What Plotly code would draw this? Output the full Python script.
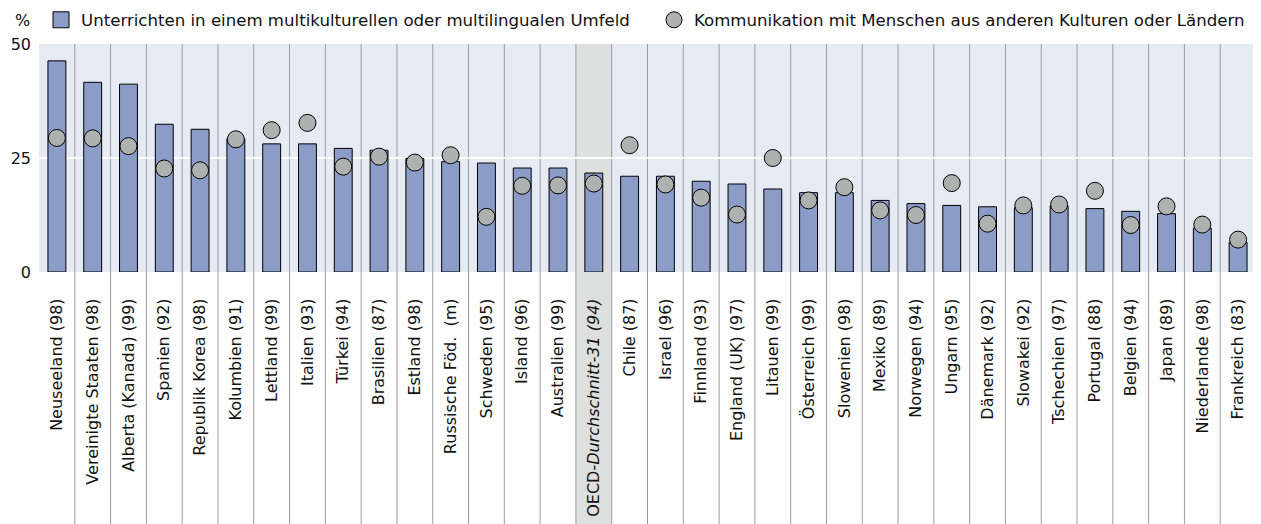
import plotly.graph_objects as go

categories = [
    "Neuseeland (98)", "Vereinigte Staaten (98)", "Alberta (Kanada) (99)", "Spanien (92)",
    "Republik Korea (98)", "Kolumbien (91)", "Lettland (99)", "Italien (93)", "Türkei (94)",
    "Brasilien (87)", "Estland (98)", "Russische Föd.  (m)", "Schweden (95)", "Island (96)",
    "Australien (99)", "OECD-<i>Durchschnitt-31 (94)</i>", "Chile (87)", "Israel (96)",
    "Finnland (93)", "England (UK) (97)", "Litauen (99)", "Österreich (99)", "Slowenien (98)",
    "Mexiko (89)", "Norwegen (94)", "Ungarn (95)", "Dänemark (92)", "Slowakei (92)",
    "Tschechien (97)", "Portugal (88)", "Belgien (94)", "Japan (89)", "Niederlande (98)",
    "Frankreich (83)",
]
unterrichten = [
    46.3, 41.6, 41.2, 32.4, 31.3, 29.2, 28.1, 28.1, 27.1, 26.7, 24.9, 24.2, 23.9, 22.8,
    22.8, 21.7, 21.0, 21.0, 19.9, 19.3, 18.2, 17.4, 17.4, 15.7, 15.0, 14.6, 14.3, 14.1,
    14.5, 13.9, 13.3, 12.8, 9.6, 6.5,
]
kommunikation = [
    29.4, 29.3, 27.6, 22.7, 22.3, 29.1, 31.1, 32.7, 23.1, 25.3, 24.0, 25.6, 12.1, 18.9,
    19.0, 19.4, 27.8, 19.2, 16.3, 12.6, 25.0, 15.7, 18.6, 13.5, 12.5, 19.5, 10.6, 14.6,
    14.8, 17.8, 10.3, 14.4, 10.4, 7.1,
]
series_names = [
    "Unterrichten in einem multikulturellen oder multilingualen Umfeld",
    "Kommunikation mit Menschen aus anderen Kulturen oder Ländern",
]
oecd_label = categories[15]
y_ticks = [0, 25, 50]

BAR_COLOR = "#8b9cc8"
DOT_COLOR = "#aeb1b0"
FONT = "DejaVu Sans"

W, H = 1253, 516  # page body has an 8px margin
idx = list(range(len(categories)))

fig = go.Figure()
# legend entries
fig.add_trace(go.Scatter(x=[None], y=[None], mode="markers", name=series_names[0],
                         legend="legend",
                         marker=dict(symbol="square", size=16, color=BAR_COLOR,
                                     line=dict(color="#000", width=1))))
fig.add_trace(go.Scatter(x=[None], y=[None], mode="markers", name=series_names[1],
                         legend="legend2",
                         marker=dict(symbol="circle", size=16, color=DOT_COLOR,
                                     line=dict(color="#000", width=1))))
fig.add_trace(go.Bar(x=idx, y=unterrichten, width=0.5, showlegend=False,
                     marker=dict(color=BAR_COLOR, line=dict(color="#000", width=1))))
fig.add_trace(go.Scatter(x=idx, y=kommunikation, mode="markers", showlegend=False,
                         marker=dict(symbol="circle", size=17, color=DOT_COLOR,
                                     line=dict(color="#000", width=1))))

shapes = []
oi = categories.index(oecd_label)
shapes.append(dict(type="rect", xref="x", yref="paper", x0=oi - 0.5, x1=oi + 0.5,
                   y0=-1.2, y1=1, fillcolor="#dedfdf", line=dict(width=0), layer="below"))
for i in range(1, len(categories)):
    shapes.append(dict(type="line", xref="x", yref="paper", x0=i - 0.5, x1=i - 0.5,
                       y0=-1.2, y1=1, line=dict(color="#9c9c9c", width=1), layer="below"))

legend_common = dict(orientation="h", xref="container", yref="container",
                     xanchor="left", y=1 - 12 / H, yanchor="middle",
                     font=dict(family=FONT, size=16.6), itemsizing="trace",
                     bgcolor="rgba(0,0,0,0)")

fig.update_layout(
    width=W, height=H,
    margin=dict(l=31, r=5, t=36, b=252, autoexpand=False),
    paper_bgcolor="white", plot_bgcolor="#e6eaf2",
    font=dict(family=FONT, size=16, color="#111"),
    shapes=shapes,
    showlegend=True,
    legend=dict(x=33 / W, **legend_common),
    legend2=dict(x=646 / W, **legend_common),
    annotations=[dict(text="%", xref="paper", yref="paper", x=-0.0136, y=1.105,
                      showarrow=False, xanchor="center", yanchor="middle",
                      font=dict(family=FONT, size=16))],
    xaxis=dict(range=[-0.5, len(categories) - 0.5], tickmode="array", tickvals=idx,
               ticktext=categories, tickangle=-90, showgrid=False, zeroline=False,
               ticks="outside", ticklen=19, tickcolor="rgba(0,0,0,0)", automargin=False,
               tickfont=dict(family=FONT, size=16)),
    yaxis=dict(range=[0, 50], tickvals=y_ticks, showgrid=True, gridcolor="white",
               gridwidth=2, zeroline=False, ticks="", ticklabelstandoff=7, automargin=False,
               tickfont=dict(family=FONT, size=16)),
    bargap=0.5,
)
fig.write_html("out.html")
